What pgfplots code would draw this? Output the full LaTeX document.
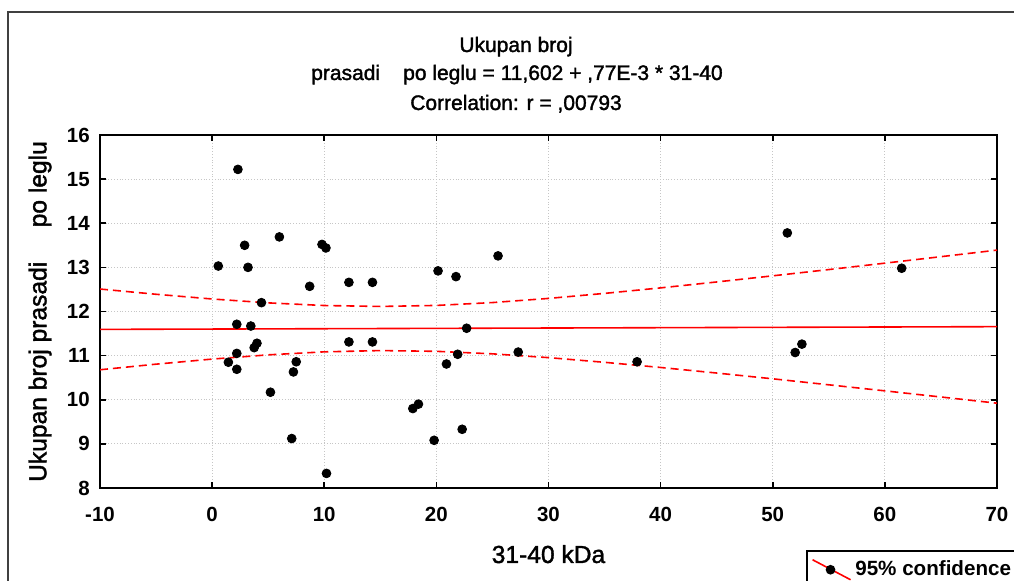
\documentclass[border=0pt]{standalone}
\usepackage{fontspec}
\setmainfont{Liberation Sans}
\newfontfamily\heavy[FakeBold=1.6]{Liberation Sans}
\usepackage{pgfplots}
\pgfplotsset{compat=1.18}

\begin{document}
\begin{tikzpicture}
\useasboundingbox (0,0) rectangle (507pt,-290.5pt);
\clip (0,0) rectangle (507pt,-290.5pt);
\begin{scope}[x=0.5pt,y=-0.5pt]
\draw[line width=1.1pt, black!75] (8,590) -- (8,12) -- (1020,12);
\node[font=\heavy\fontsize{10.5}{12}\selectfont, anchor=base, inner sep=0pt] at (516,52) {Ukupan broj};
\node[font=\heavy\fontsize{10.5}{12}\selectfont, anchor=base, inner sep=0pt] at (517,80) {prasadi\hspace{1.1em}po leglu = 11,602 + ,77E-3 * 31-40};
\node[font=\heavy\fontsize{10.5}{12}\selectfont, anchor=base, inner sep=0pt] at (516,110) {Correlation: r = ,00793};
\end{scope}
\begin{axis}[
  at={(50pt,-67.5pt)}, anchor=north west,
  width=448.5pt, height=176.5pt, scale only axis,
  xmin=-10, xmax=70, ymin=8, ymax=16,
  xtick={-10,0,...,70}, ytick={8,9,...,16},
  /pgf/number format/assume math mode=true,
  ticklabel style={font=\bfseries\fontsize{10.25}{12}\selectfont},
  xticklabel style={yshift=-6pt},
  yticklabel style={xshift=-1.6pt},
  axis line style={line width=1.2pt},
  tick align=inside, major tick length=3pt,
  tick style={black, line width=0.8pt},
  grid=major,
  major grid style={densely dotted, gray!45, line width=0.5pt},
  xlabel={31-40 kDa},
  ylabel={Ukupan broj prasadi\hspace{1.4em}po leglu},
  label style={font=\heavy\fontsize{12.3}{14}\selectfont},
  xlabel style={at={(axis description cs:0.5,0)}, anchor=base, yshift=-37.5pt},
  ylabel style={at={(axis description cs:-0.0669,0.5)}, anchor=center},
  legend style={at={(0.787,0)}, anchor=north west, yshift=-31pt,
    draw=black, line width=0.8pt, font=\bfseries\fontsize{10.3}{12}\selectfont,
    inner xsep=2.5pt, inner ysep=3pt},
  legend cell align=left,
]
\addplot[only marks, mark=*, mark size=2.2pt, black, forget plot] coordinates {
(2.3,15.22) (6.0,13.69) (2.9,13.5) (9.8,13.52) (10.15,13.44)
(0.55,13.03) (3.2,13.0) (8.7,12.57) (12.2,12.66) (14.3,12.66)
(4.4,12.2) (20.15,12.92) (21.75,12.79) (25.5,13.26) (2.2,11.71)
(3.45,11.67) (22.7,11.62) (12.2,11.31) (14.3,11.31) (4.0,11.28)
(3.75,11.18) (2.2,11.05) (1.45,10.85) (2.2,10.69) (7.5,10.86)
(7.25,10.63) (5.2,10.17) (7.1,9.12) (10.2,8.33) (17.9,9.8)
(18.4,9.9) (19.8,9.08) (22.3,9.33) (20.9,10.81) (21.9,11.03)
(27.3,11.08) (51.3,13.78) (61.5,12.98) (37.9,10.86) (52.0,11.07)
(52.6,11.26)
};
\addplot[red, line width=0.8pt, forget plot] coordinates {(-10,11.594) (70,11.656)};
\addplot[red, line width=0.8pt, dash pattern=on 4pt off 2.5pt, forget plot] coordinates {
(-10,12.509) (-5,12.390) (0,12.283) (5,12.195) (10,12.135) (15,12.114)
(20,12.137) (25,12.202) (30,12.296) (35,12.410) (40,12.535) (45,12.669)
(50,12.808) (55,12.950) (60,13.095) (65,13.242) (70,13.391)
};
\addplot[red, line width=0.8pt, dash pattern=on 4pt off 2.5pt, forget plot] coordinates {
(-10,10.679) (-5,10.806) (0,10.921) (5,11.017) (10,11.085) (15,11.114)
(20,11.097) (25,11.040) (30,10.954) (35,10.848) (40,10.731) (45,10.605)
(50,10.474) (55,10.338) (60,10.201) (65,10.062) (70,9.921)
};
\addlegendimage{legend image code/.code={
  \draw[red, line width=0.8pt] (0pt,5pt) -- (19pt,-5pt);
  \fill[black] (9pt,0pt) circle (2pt);}}
\addlegendentry{95\% confidence}
\end{axis}
\end{tikzpicture}
\end{document}
